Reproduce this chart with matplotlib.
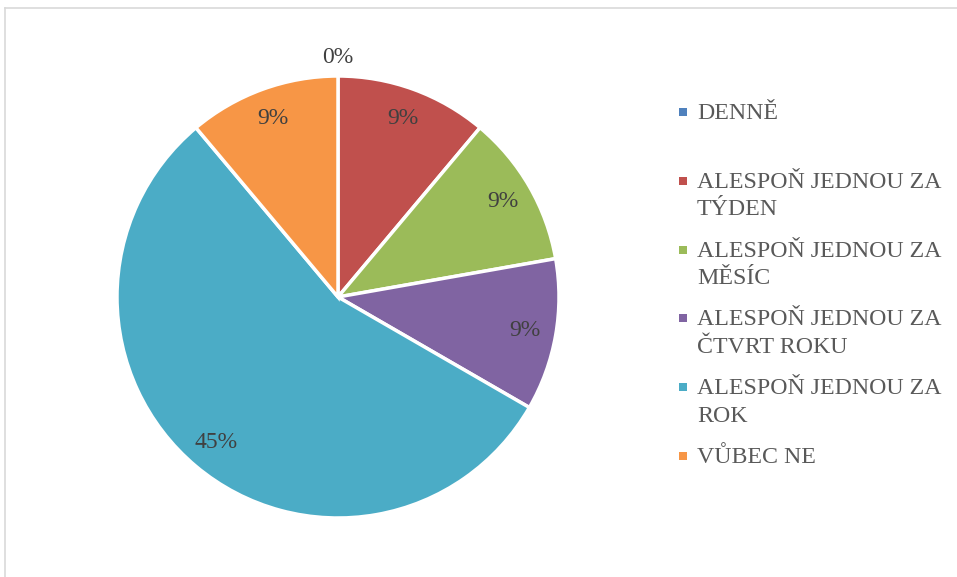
import numpy as np
import matplotlib
matplotlib.use("Agg")
import matplotlib.pyplot as plt
from matplotlib.patches import Rectangle
from matplotlib.lines import Line2D

categories = ["DENNĚ", "ALESPOŇ JEDNOU ZA\nTÝDEN", "ALESPOŇ JEDNOU ZA\nMĚSÍC",
              "ALESPOŇ JEDNOU ZA\nČTVRT ROKU", "ALESPOŇ JEDNOU ZA\nROK", "VŮBEC NE"]
values = [0, 1, 1, 1, 5, 1]
pct_labels = ["0%", "9%", "9%", "9%", "45%", "9%"]
colors = ["#4F81BD", "#C0504D", "#9BBB59", "#8064A2", "#4BACC6", "#F79646"]

W, H = 957, 577
fig = plt.figure(figsize=(W / 100, H / 100), dpi=100)
serif = ["Liberation Serif", "DejaVu Serif"]

cx, cy, r = 338, 297, 221
ax = fig.add_axes([(cx - r) / W, (H - cy - r) / H, 2 * r / W, 2 * r / H])
wedges, _ = ax.pie(values, colors=colors, startangle=90, counterclock=False,
                   radius=1.0, wedgeprops=dict(edgecolor="white", linewidth=2.5))
ax.set_xlim(-1, 1)
ax.set_ylim(-1, 1)
ax.set_aspect("equal")
ax.axis("off")

for w, lab, v in zip(wedges, pct_labels, values):
    ang = np.deg2rad((w.theta1 + w.theta2) / 2)
    d = 1.085 if v == 0 else 0.86
    ax.text(d * np.cos(ang), d * np.sin(ang), lab, ha="center", va="center",
            fontsize=17, family=serif, color="#404040")

# legend
y0, step, lstep = 112, 68.8, 27.5
for i, (cat, col) in enumerate(zip(categories, colors)):
    y = y0 + i * step
    fig.patches.append(Rectangle(((683 - 4) / W, (H - y - 4) / H), 8 / W, 8 / H,
                                 transform=fig.transFigure, facecolor=col, edgecolor="none"))
    for j, line in enumerate(cat.split("\n")):
        fig.text(697 / W, (H - y - j * lstep - 1.5) / H, line, ha="left", va="center",
                 fontsize=17.2, family=serif, color="#595959")

# frame lines
fig.add_artist(Line2D([5 / W, 1], [(H - 8) / H, (H - 8) / H], transform=fig.transFigure,
                      color="#D9D9D9", linewidth=1.2))
fig.add_artist(Line2D([5 / W, 5 / W], [0, (H - 8) / H], transform=fig.transFigure,
                      color="#D9D9D9", linewidth=1.2))

fig.savefig("out.png", dpi=100)
